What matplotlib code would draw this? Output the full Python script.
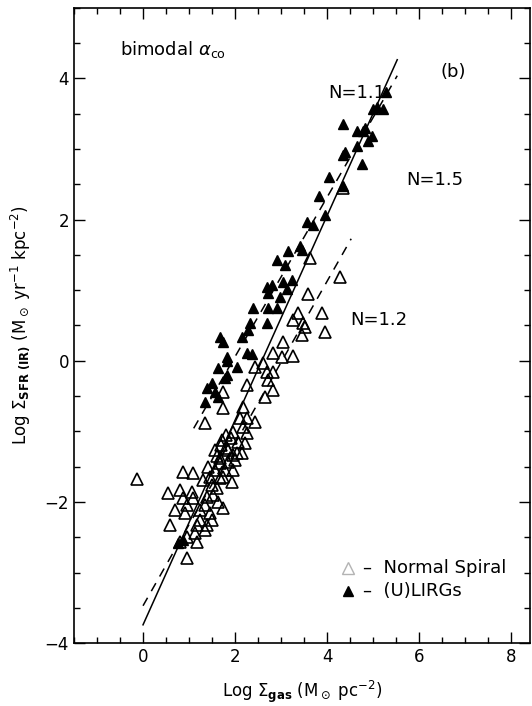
import numpy as np
import matplotlib.pyplot as plt

# (U)LIRGs: log gas surface density, log SFR surface density
lirg_x = [5.28, 5.09, 5.22, 5.00, 4.35, 4.65, 4.83, 4.78, 4.98, 4.89, 4.65, 4.39,
          4.35, 4.76, 4.04, 4.35, 3.83, 3.96, 3.57, 3.70, 3.41, 3.46, 3.15, 2.91,
          3.09, 2.70, 2.80, 3.04, 3.24, 2.72, 2.98, 3.13, 2.39, 2.72, 2.91, 2.70,
          2.33, 2.28, 2.15, 1.67, 1.74, 2.26, 2.37, 1.83, 1.83, 1.63, 2.04, 1.83,
          1.78, 1.50, 1.39, 1.57, 1.63, 1.35, 0.76, 0.87]
lirg_y = [3.80, 3.60, 3.57, 3.56, 3.35, 3.25, 3.30, 3.25, 3.18, 3.11, 3.04, 2.96,
          2.91, 2.78, 2.60, 2.47, 2.34, 2.06, 1.96, 1.93, 1.62, 1.57, 1.55, 1.43,
          1.36, 1.05, 1.08, 1.12, 1.15, 0.96, 0.91, 1.01, 0.75, 0.75, 0.75, 0.54,
          0.54, 0.44, 0.34, 0.33, 0.26, 0.11, 0.09, 0.06, -0.01, -0.10, -0.09, -0.20,
          -0.24, -0.31, -0.38, -0.44, -0.51, -0.58, -2.58, -2.54]

# normal spirals
spiral_x = [4.35, 3.63, 4.28, 3.59, 3.89, 3.37, 3.26, 3.48, 3.52, 3.96, 3.46, 3.04,
            2.83, 3.02, 3.26, 2.43, 2.61, 2.70, 2.83, 2.72, 2.26, 2.83, 1.74, 2.65,
            1.74, 2.17, 1.35, 2.11, 2.26, 2.43, 2.17, 1.96, 2.26, 1.72, 2.07, 2.22,
            1.83, 1.96, 1.67, -0.13, 0.87, 1.09, 1.41, 1.67, 1.85, 1.96, 1.46, 1.74,
            1.93, 0.54, 0.80, 1.07, 0.87, 1.09, 1.39, 1.61, 1.63, 0.96, 0.70, 0.91,
            1.24, 1.46, 1.74, 0.59, 1.17, 1.39, 1.13, 0.96, 1.17, 0.80, 0.96, 1.30,
            1.50, 1.57, 1.67, 1.52, 1.35, 1.24, 1.35, 1.50, 1.78, 1.57, 1.85,
            2.00, 1.90, 2.05, 1.80, 1.70, 2.15, 1.60]
spiral_y = [2.45, 1.46, 1.19, 0.95, 0.68, 0.68, 0.58, 0.54, 0.48, 0.41, 0.37, 0.26,
            0.11, 0.06, 0.07, -0.09, -0.03, -0.16, -0.16, -0.27, -0.34, -0.41, -0.44, -0.52,
            -0.67, -0.65, -0.88, -0.81, -0.81, -0.87, -0.94, -1.01, -1.02, -1.12, -1.15, -1.16,
            -1.23, -1.33, -1.38, -1.67, -1.57, -1.59, -1.50, -1.45, -1.43, -1.55, -1.65, -1.65,
            -1.72, -1.87, -1.83, -1.86, -1.94, -1.94, -1.93, -1.80, -2.00, -2.04, -2.11, -2.16,
            -2.11, -2.16, -2.09, -2.33, -2.33, -2.33, -2.44, -2.50, -2.57, -2.57, -2.79, -1.69,
            -1.76, -1.55, -1.66, -1.90, -2.04, -2.26, -2.40, -2.26, -1.55, -1.26, -1.26,
            -1.40, -1.10, -1.30, -1.05, -1.20, -1.30, -1.35]

# fits: slope, intercept, x range
fit_all = (1.45, -3.74, 0.0, 5.52)
fit_lirg = (1.13, -2.20, 1.10, 5.52)
fit_spiral = (1.15, -3.47, 0.0, 4.52)

plt.rcParams['font.family'] = ['DejaVu Sans']
plt.rcParams['mathtext.fontset'] = 'dejavusans'

fig = plt.figure(figsize=(5.32, 7.06), dpi=100)
ax = fig.add_axes([0.139, 0.089, 0.857, 0.9])

ax.plot(spiral_x, spiral_y, '^', mfc='none', mec='black', ms=8.5, mew=1.2, ls='none')
ax.plot(lirg_x, lirg_y, '^', mfc='black', mec='black', ms=6.5, ls='none')

for s, b, x0, x1, st in [(fit_all[0], fit_all[1], fit_all[2], fit_all[3], '-'),
                         (fit_lirg[0], fit_lirg[1], fit_lirg[2], fit_lirg[3], '--'),
                         (fit_spiral[0], fit_spiral[1], fit_spiral[2], fit_spiral[3], '--')]:
    xx = np.array([x0, x1])
    if st == '--':
        ax.plot(xx, s * xx + b, color='black', lw=1.1, ls=(0, (6, 5)))
    else:
        ax.plot(xx, s * xx + b, color='black', lw=1.1)

ax.set_xlim(-1.5, 8.4)
ax.set_ylim(-4, 5)
ax.set_xticks([0, 2, 4, 6, 8])
ax.set_yticks([-4, -2, 0, 2, 4])
ax.set_xticks(np.arange(-1.5, 8.41, 0.5), minor=True)
ax.set_yticks(np.arange(-4, 5.01, 0.5), minor=True)
ax.tick_params(which='both', direction='in', top=True, right=True, labelsize=12, width=1)
ax.tick_params(which='major', length=8)
ax.tick_params(which='minor', length=4.5)
for sp in ax.spines.values():
    sp.set_linewidth(1.2)

ax.set_xlabel(r'Log $\Sigma_{\mathbf{gas}}$ (M$_\odot$ pc$^{-2}$)', fontsize=12, labelpad=9)
ax.set_ylabel(r'Log $\Sigma_{\mathbf{SFR\ (IR)}}$ (M$_\odot$ yr$^{-1}$ kpc$^{-2}$)',
              fontsize=12, labelpad=9)

ax.text(0.10, 0.934, r'bimodal $\alpha_{\rm co}$', transform=ax.transAxes, fontsize=13,
        va='center')
ax.text(0.833, 0.899, '(b)', transform=ax.transAxes, fontsize=13, va='center', ha='center')
ax.text(0.557, 0.866, 'N=1.1', transform=ax.transAxes, fontsize=13, va='center')
ax.text(0.728, 0.729, 'N=1.5', transform=ax.transAxes, fontsize=13, va='center')
ax.text(0.605, 0.509, 'N=1.2', transform=ax.transAxes, fontsize=13, va='center')

# legend
ax.plot([0.60], [0.118], '^', mfc='none', mec='0.7', ms=8, mew=1.0, transform=ax.transAxes)
ax.plot([0.60], [0.082], '^', mfc='black', mec='black', ms=6.5, transform=ax.transAxes)
ax.text(0.634, 0.118, u'\u2013  Normal Spiral', transform=ax.transAxes, fontsize=13,
        va='center')
ax.text(0.634, 0.082, u'\u2013  (U)LIRGs', transform=ax.transAxes, fontsize=13,
        va='center')

fig.savefig('out.png', dpi=100)
